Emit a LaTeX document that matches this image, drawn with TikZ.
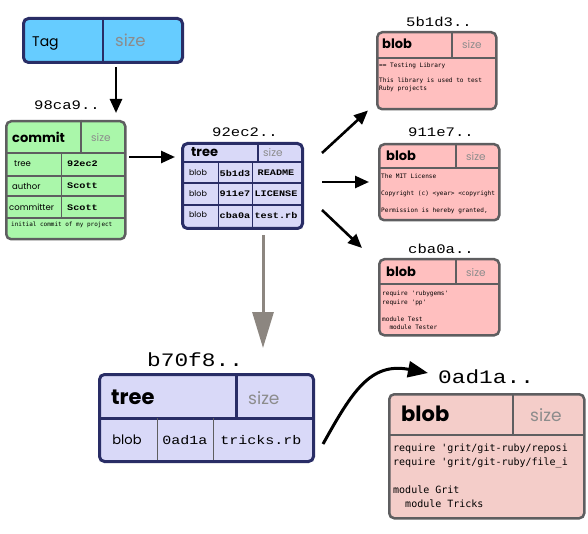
\documentclass[tikz,border=0pt]{standalone}
\usepackage{fontspec}
\setsansfont{Poppins}
\newfontfamily\hashfont[FakeStretch=1.2]{Liberation Mono}
\newfontfamily\codefont{DejaVu Sans Mono}
\usepackage{tikz}
\usetikzlibrary{arrows.meta}

\definecolor{tagblue}{HTML}{66CCFF}
\definecolor{navy}{HTML}{292D66}
\definecolor{treefill}{HTML}{D9D9F8}
\definecolor{commitfill}{HTML}{AAF7AA}
\definecolor{blobfill}{HTML}{FFBFBF}
\definecolor{bigblobfill}{HTML}{F4CDC9}
\definecolor{boxgray}{HTML}{5E5E60}
\definecolor{sizegray}{HTML}{8C8C8C}
\definecolor{arrowgray}{HTML}{8C8680}

\begin{document}
\begin{tikzpicture}[x=1pt, y=-1pt,
        box/.style={rectangle, rounded corners=5pt, anchor=north west, inner sep=0pt},
        tagbox/.style={box, fill=tagblue, draw=navy, line width=3pt},
        treebox/.style={box, fill=treefill, draw=navy, line width=3pt},
        commitbox/.style={box, fill=commitfill, draw=boxgray, line width=2.5pt},
        blobbox/.style={box, fill=blobfill, draw=boxgray, line width=2.5pt},
        head/.style={font=\sffamily\bfseries\fontsize{#1}{#1}\selectfont, anchor=west, inner sep=0pt},
        sizetxt/.style={font=\sffamily\fontsize{#1}{#1}\selectfont, text=sizegray, anchor=west, inner sep=0pt},
        label/.style={font=\hashfont\fontsize{#1}{#1}\selectfont, anchor=base west, inner sep=0pt},
        cell/.style={font=\sffamily\fontsize{#1}{#1}\selectfont, inner sep=0pt},
        ref/.style={font=\hashfont\bfseries\fontsize{#1}{#1}\selectfont, inner sep=0pt},
        body/.style={font=\codefont\fontsize{#1}{#1}\selectfont, align=left, anchor=north west, inner sep=0pt},
        navyline/.style={draw=navy, line width=#1},
        grayline/.style={draw=boxgray, line width=#1},
        conn/.style={-{Triangle[length=14pt,width=12pt]}, line width=2.6pt},
        bigconn/.style={-{Triangle[length=36pt,width=21pt]}, line width=3pt, draw=arrowgray, fill=arrowgray}
    ]
        \path[use as bounding box, fill=white] (0,0) rectangle (588,534);

        % tag
        \node[tagbox, minimum width=159pt, minimum height=44pt] (tag) at (22,17) {};
        \draw[navyline=2pt] (103,17) -- (103,61);
        \node[cell=14, anchor=base west] (tagname) at (32,46.5) {Tag};
        \node[sizetxt=16.5, anchor=base west] (tagsize) at (115,47) {size};

        % commit 98ca9
        \node[label=13] (commitlbl) at (34,110) {98ca9..};
        \node[commitbox, minimum width=119pt, minimum height=118pt] (commit) at (5,120) {};
        \draw[grayline=2.5pt] (5,153) -- (124,153);
        \draw[grayline=2.5pt] (81,120) -- (81,153);
        \draw[grayline=1.3pt] (5,176) -- (124,176);
        \draw[grayline=1.3pt] (5,196) -- (124,196);
        \draw[grayline=1.3pt] (5,218) -- (124,218);
        \draw[grayline=1pt] (61,153) -- (61,218);
        \node[head=13] (committitle) at (12,137) {commit};
        \node[sizetxt=10.5] (commitsize) at (91,138) {size};
        \node[cell=8.5, anchor=west] (ctree) at (14,164) {tree};
        \node[cell=8.5, anchor=west] (cauthor) at (12,186) {author};
        \node[cell=8.5, anchor=west] (ccommitter) at (9,207) {committer};
        \node[ref=8.5, anchor=west] (ctreeref) at (67,164) {92ec2};
        \node[ref=8.5, anchor=west] (cauthorref) at (67,186) {Scott};
        \node[ref=8.5, anchor=west] (ccommitterref) at (67,208) {Scott};
        \node[body=6, anchor=west] (cmsg) at (11,225) {initial commit of my project};

        % tree 92ec2
        \node[label=13] (treelbl) at (212,137) {92ec2..};
        \node[treebox, minimum width=120pt, minimum height=85pt] (treeA) at (181,142) {};
        \draw[navyline=2.5pt] (181,162) -- (301,162);
        \draw[navyline=2.5pt] (258,142) -- (258,162);
        \draw[navyline=1.3pt] (181,183) -- (301,183);
        \draw[navyline=1.3pt] (181,205) -- (301,205);
        \draw[navyline=1pt] (218,162) -- (218,227);
        \draw[navyline=1pt] (252,162) -- (252,227);
        \node[head=13] (treetitle) at (191,152) {tree};
        \node[sizetxt=10.5] (treesize) at (263,153) {size};
        \node[cell=8] (trow1) at (198,173) {blob};
        \node[cell=8] (trow2) at (198,194) {blob};
        \node[cell=8] (trow3) at (198,215) {blob};
        \node[ref=8.5] (tref1) at (235,173) {5b1d3};
        \node[ref=8.5] (tref2) at (235,194) {911e7};
        \node[ref=8.5] (tref3) at (235,215) {cba0a};
        \node[ref=8.5] (tname1) at (276,173) {README};
        \node[ref=8.5] (tname2) at (276,194) {LICENSE};
        \node[ref=8.5] (tname3) at (276,215) {test.rb};

        % blob 5b1d3
        \node[label=13] (blobAlbl) at (406,27) {5b1d3..};
        \node[blobbox, minimum width=119pt, minimum height=77pt] (blobA) at (376,31) {};
        \draw[grayline=2.5pt] (376,58) -- (495,58);
        \draw[grayline=2.5pt] (452,31) -- (452,58);
        \node[head=13] (blobAtitle) at (382,44) {blob};
        \node[sizetxt=10.5] (blobAsize) at (462,45) {size};
        \node[body=6.1] (blobAtext) at (379,63) {== Testing Library\\[8.5pt]This library is used to test\\[2.4pt]Ruby projects};

        % blob 911e7
        \node[label=13] (blobBlbl) at (408,137) {911e7..};
        \node[blobbox, minimum width=120pt, minimum height=76pt] (blobB) at (378,143) {};
        \draw[grayline=2.5pt] (378,168) -- (498,168);
        \draw[grayline=2.5pt] (456,143) -- (456,168);
        \node[head=13] (blobBtitle) at (386,156) {blob};
        \node[sizetxt=10.5] (blobBsize) at (466,157) {size};
        \node[body=6.1] (blobBtext) at (381,174) {The MIT License\\[10.9pt]Copyright (c) <year> <copyright\\[10.9pt]Permission is hereby granted,};

        % blob cba0a
        \node[label=13] (blobClbl) at (408,254) {cba0a..};
        \node[blobbox, minimum width=120pt, minimum height=76pt] (blobC) at (378,258) {};
        \draw[grayline=2.5pt] (378,284) -- (498,284);
        \draw[grayline=2.5pt] (456,258) -- (456,284);
        \node[head=13] (blobCtitle) at (386,272) {blob};
        \node[sizetxt=10.5] (blobCsize) at (466,273) {size};
        \node[body=6.1] (blobCtext) at (382,291) {require 'rubygems'\\[2.4pt]require 'pp'\\[10.9pt]module Test\\[2.4pt]\ \ module Tester};

        % tree b70f8
        \node[label=19] (bigtreelbl) at (147,366) {b70f8..};
        \node[treebox, minimum width=214pt, minimum height=87pt] (bigtree) at (98,373) {};
        \draw[navyline=3pt] (98,418) -- (312,418);
        \draw[navyline=3pt] (236,373) -- (236,418);
        \draw[grayline=1pt] (157,418) -- (157,460);
        \draw[grayline=1pt] (213,418) -- (213,460);
        \node[head=21] (bigtreetitle) at (111,397) {tree};
        \node[sizetxt=17] (bigtreesize) at (248,398) {size};
        \node[cell=13] (bigtreerow) at (127,440) {blob};
        \node[font=\hashfont\fontsize{12.5}{12.5}\selectfont, inner sep=0pt] (bigtreeref) at (185,440) {0ad1a};
        \node[font=\hashfont\fontsize{12.5}{12.5}\selectfont, inner sep=0pt] (bigtreename) at (261,440) {tricks.rb};

        % blob 0ad1a
        \node[label=19] (bigbloblbl) at (438,383) {0ad1a..};
        \node[blobbox, fill=bigblobfill, minimum width=195pt, minimum height=124pt] (bigblob) at (388,393) {};
        \draw[grayline=2.5pt] (388,435) -- (583,435);
        \draw[grayline=2.5pt] (513,393) -- (513,435);
        \node[head=21] (bigblobtitle) at (401,414) {blob};
        \node[sizetxt=17] (bigblobsize) at (530,415) {size};
        \node[body=10] (bigblobtext) at (393,444) {require 'grit/git-ruby/reposi\\[3.7pt]require 'grit/git-ruby/file\_i\\[17.4pt]module Grit\\[3.7pt]\ \ module Tricks};

        % connectors
        \coordinate (tagdrop) at (116,67);
        \coordinate (cmout) at (129,157);
        \coordinate (out1) at (322,153);
        \coordinate (out2) at (322,182);
        \coordinate (out3) at (322,210);
        \coordinate (graytop) at (263,235);
        \draw[conn, shorten >=7pt] (tagdrop) -- (tagdrop |- commit.north);
        \draw[conn, shorten >=6pt] (cmout) -- (cmout -| treeA.west);
        \draw[conn] (out1) -- ([xshift=-8pt]blobA.south west);
        \draw[conn, shorten >=9pt] (out2) -- (out2 -| blobB.west);
        \draw[conn] (out3) -- ([xshift=-16pt,yshift=10pt]blobC.north west);
        \draw[bigconn, shorten >=25pt] (graytop) -- (graytop |- bigtree.north);
        \draw[conn, line width=3pt, -{Triangle[length=20pt,width=16pt]}] ([xshift=8pt,yshift=-26pt]bigtree.east)
            .. controls (352,392) and (370,362) .. ([xshift=-10pt,yshift=10pt]bigbloblbl.base west);
    \end{tikzpicture}
\end{document}
